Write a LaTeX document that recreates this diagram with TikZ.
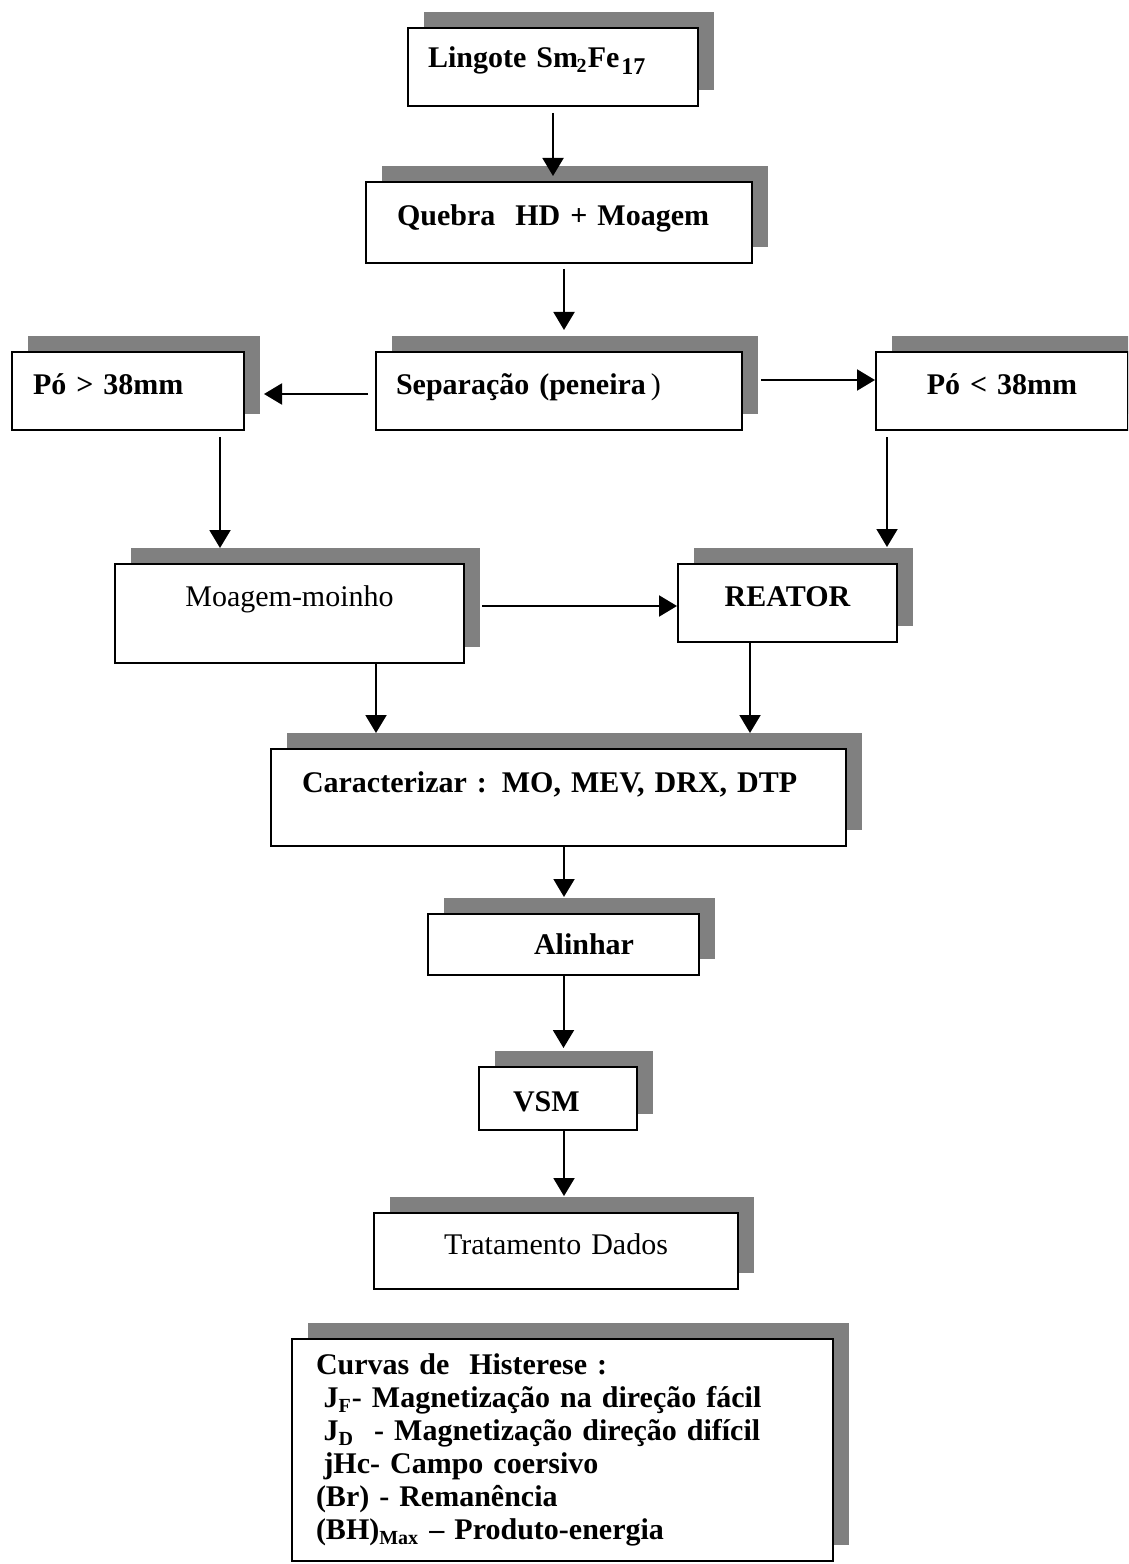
\documentclass[tikz,border=0pt]{standalone}
\usepackage{fontspec}
\setmainfont{Liberation Serif}
\usetikzlibrary{arrows.meta,shadows}
\definecolor{sombra}{gray}{0.5}
\setlength{\parindent}{0pt}

\begin{document}
\fontsize{12}{13.2}\selectfont
\begin{tikzpicture}[x=0.4pt, y=-0.4pt,
	etapa/.style={draw, line width=0.8pt, fill=white, anchor=north west, inner sep=0pt, align=left, font=\bfseries,
		drop shadow={shadow xshift=6.4pt, shadow yshift=6.4pt, opacity=1, fill=sombra, draw=none}},
	seta/.style={-{Triangle[width=8.4pt, length=7.2pt]}, line width=0.8pt}]

	\useasboundingbox (0,0) rectangle (1128,1564);
	\clip (0,0) rectangle (1128,1564);

	\node[etapa, text width=116pt, text height=16pt, text depth=15.2pt] (lingote) at (407,27) {\hspace*{8pt}Lingote Sm\kern-0.6pt\textsubscript{2}Fe\kern0.8pt\raisebox{-2.8pt}{\fontsize{9.6}{9.6}\selectfont 17}};

	\node[etapa, text width=154.4pt, text height=17.6pt, text depth=14.8pt] (quebra) at (365,181) {\hspace*{12.4pt}Quebra~ HD + Moagem};

	\node[etapa, text width=146.4pt, text height=16.8pt, text depth=14.4pt] (separacao) at (375,351) {\hspace*{8pt}Separação (peneira\,{\mdseries )}};

	\node[etapa, text width=92.8pt, text height=16.8pt, text depth=14.4pt] (po1) at (11,351) {\hspace*{8.4pt}Pó > 38mm};
	\node[etapa, align=center, text width=100.8pt, text height=16.8pt, text depth=14.4pt] (po2) at (875,351) {Pó < 38mm};

	\node[etapa, font=\mdseries, align=center, text width=139.6pt, text height=16.8pt, text depth=22.8pt] (moagem) at (114,563) {Moagem-moinho};
	\node[etapa, align=center, text width=87.6pt, text height=16.8pt, text depth=14.4pt] (reator) at (677,563) {REATOR};

	\node[etapa, text width=230pt, text height=17.2pt, text depth=21.6pt] (caracterizar) at (270,748) {\hspace*{12.4pt}Caracterizar : MO, MEV, DRX, DTP};

	\node[etapa, text width=108.4pt, text height=16pt, text depth=8.4pt] (alinhar) at (427,913) {\hspace*{42.4pt}Alinhar};

	\node[etapa, text width=63.2pt, text height=17.6pt, text depth=7.6pt] (vsm) at (478,1066) {\hspace*{13.6pt}VSM};

	\node[etapa, font=\mdseries, align=center, text width=145.6pt, text height=16.4pt, text depth=14pt] (tratamento) at (373,1212) {Tratamento Dados};

	% propriedades medidas
	\node[etapa, inner xsep=9.6pt, text width=197.2pt, minimum height=88.8pt] (curvas) at (291,1338) {Curvas de~ Histerese :\\
		\hspace*{0.25em}J\textsubscript{F}- Magnetização na direção fácil\\
		\hspace*{0.25em}J\textsubscript{D}~ - Magnetização direção difícil\\
		\hspace*{0.25em}jHc- Campo coersivo\\
		(Br) - Remanência\\
		(BH)\textsubscript{Max}~– Produto-energia};

	\draw[seta, shorten <=2.4pt, shorten >=2pt] (lingote.south) -- (lingote.south |- quebra.north);
	\draw[seta, shorten <=2pt, shorten >=8.4pt] ([xshift=2pt]quebra.south) -- ([xshift=2pt]quebra.south |- separacao.north);

	\draw[seta] ([xshift=-2.8pt, yshift=-1.2pt]separacao.west) -- ([xshift=7.6pt, yshift=-1.2pt]po1.east);
	\draw[seta] ([xshift=7.2pt, yshift=4.4pt]separacao.east) -- ([yshift=4.4pt]po2.west);

	\draw[seta, shorten <=2.4pt, shorten >=6pt] ([xshift=36.8pt]po1.south) -- ([xshift=36.8pt]po1.south |- moagem.north);
	\draw[seta, shorten <=2.4pt, shorten >=6.4pt] ([xshift=-46pt]po2.south) -- ([xshift=-46pt]po2.south |- reator.north);

	\draw[seta] ([xshift=6.8pt, yshift=3pt]moagem.east) -- ([yshift=3pt]moagem.east -| reator.west);

	\draw[seta, shorten >=6pt] ([xshift=34.6pt]moagem.south) -- ([xshift=34.6pt]moagem.south |- caracterizar.north);
	\draw[seta, shorten >=6pt] ([xshift=-15pt]reator.south) -- ([xshift=-15pt]reator.south |- caracterizar.north);

	\draw[seta, shorten >=6.4pt] ([xshift=2.2pt]caracterizar.south) -- ([xshift=2.2pt]caracterizar.south |- alinhar.north);
	\draw[seta, shorten >=7.2pt] (alinhar.south) -- (alinhar.south |- vsm.north);
	\draw[seta, shorten >=6.4pt] ([xshift=2.4pt]vsm.south) -- ([xshift=2.4pt]vsm.south |- tratamento.north);

\end{tikzpicture}
\end{document}
